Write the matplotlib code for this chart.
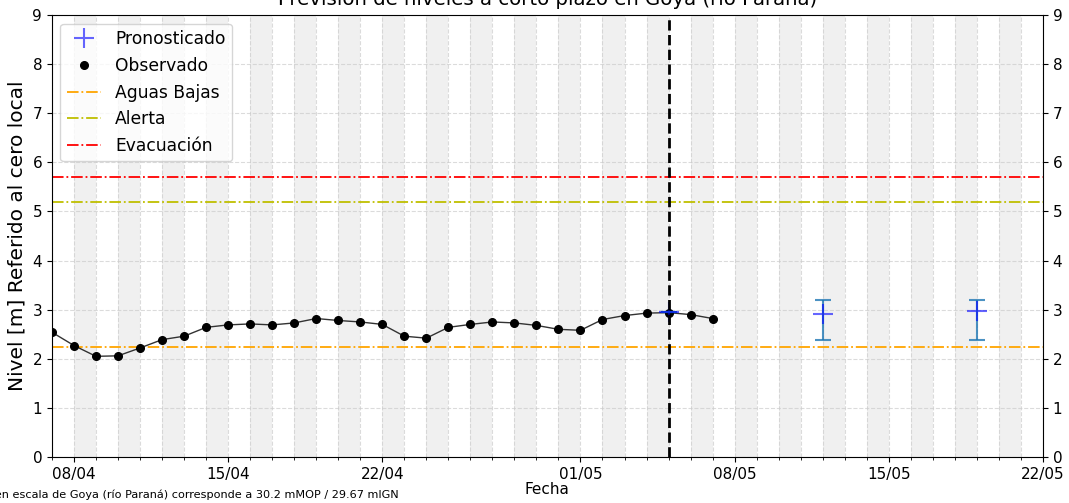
import numpy as np
import pandas as pd
import matplotlib
matplotlib.use('Agg')
import matplotlib.pyplot as plt
import matplotlib.dates as mdates

# observed levels, one per day
obs_dates = pd.date_range('2024-04-07', '2024-05-07', freq='D')
obs_vals = [2.54, 2.27, 2.05, 2.06, 2.22, 2.39, 2.46, 2.64, 2.69, 2.71,
            2.69, 2.73, 2.82, 2.78, 2.75, 2.70, 2.46, 2.42, 2.64, 2.70,
            2.75, 2.73, 2.68, 2.60, 2.58, 2.80, 2.88, 2.93, 2.94, 2.90,
            2.82]

# forecast with lower/upper bounds
fc_dates = pd.to_datetime(['2024-05-05', '2024-05-12', '2024-05-19'])
fc_vals = [2.95, 2.92, 2.98]
fc_low = [2.95, 2.39, 2.39]
fc_high = [2.95, 3.19, 3.19]

# reference levels
aguas_bajas = 2.25
alerta = 5.2
evacuacion = 5.7

fecha_emision = pd.Timestamp('2024-05-05')
x_ini = pd.Timestamp('2024-04-07')
x_fin = pd.Timestamp('2024-05-22')

fig = plt.figure(figsize=(10.69, 5.03), dpi=100)
ax = fig.add_axes([0.0486, 0.0915, 0.927, 0.8785])

# alternating gray day bands
d = pd.Timestamp('2024-04-08')
while d < x_fin:
    ax.axvspan(d, d + pd.Timedelta(days=1), color='#f0f0f0', zorder=0, lw=0)
    d += pd.Timedelta(days=2)

ax.plot(obs_dates, obs_vals, '-', color='#333333', lw=1, zorder=3)
ax.plot(obs_dates, obs_vals, 'o', color='k', markersize=5.5, label='Observado', zorder=4, linestyle='none')

err = [np.array(fc_vals) - np.array(fc_low), np.array(fc_high) - np.array(fc_vals)]
ax.errorbar(fc_dates, fc_vals, yerr=err, fmt='none', ecolor='#1f77b4', alpha=0.8,
            capsize=6, elinewidth=1.5, capthick=1.5, zorder=5)
ax.plot(fc_dates, fc_vals, '+', color='blue', alpha=0.6, markersize=15, markeredgewidth=1.5,
        linestyle='none', label='Pronosticado', zorder=6)

ax.axhline(aguas_bajas, color='orange', ls='-.', lw=1.3, label='Aguas Bajas')
ax.axhline(alerta, color='y', ls='-.', lw=1.3, label='Alerta')
ax.axhline(evacuacion, color='r', ls='-.', lw=1.3, label='Evacuación')

ax.axvline(fecha_emision, color='k', ls='--', lw=2, zorder=7)

ax.set_xlim(x_ini, x_fin)
ax.set_ylim(0, 9)
ax.set_yticks(range(10))
ax.xaxis.set_major_locator(mdates.DayLocator(bymonthday=[1, 8, 15, 22]))
ax.xaxis.set_major_formatter(mdates.DateFormatter('%d/%m'))
ax.xaxis.set_minor_locator(mdates.DayLocator())
ax.tick_params(axis='both', labelsize=11)
ax.tick_params(axis='y', right=True, labelright=True)
ax.grid(which='both', axis='x', ls='--', color='#cccccc', alpha=0.7)
ax.grid(which='major', axis='y', ls='--', color='#cccccc', alpha=0.7)
ax.set_axisbelow(True)

ax.set_ylabel('Nivel [m] Referido al cero local', fontsize=14.5)
ax.set_xlabel('Fecha', fontsize=11, labelpad=0)
ax.set_title('Previsión de niveles a corto plazo en Goya (río Paraná)', fontsize=14.2, pad=7)

h, l = ax.get_legend_handles_labels()
orden = ['Pronosticado', 'Observado', 'Aguas Bajas', 'Alerta', 'Evacuación']
hh = [h[l.index(o)] for o in orden]
ax.legend(hh, orden, loc='upper left', fontsize=12.3)

fig.text(0.3725, 0.006, 'Cero en escala de Goya (río Paraná) corresponde a 30.2 mMOP / 29.67 mIGN',
         ha='right', va='bottom', fontsize=8.15)

fig.savefig('out.png', dpi=100)
